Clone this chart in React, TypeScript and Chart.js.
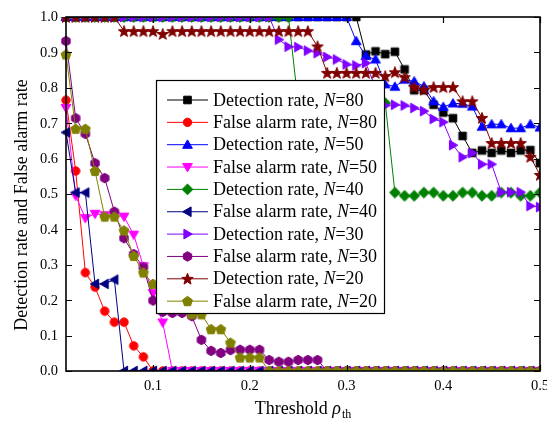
import React, { useEffect, useRef } from 'react';
import { Chart, registerables } from 'chart.js';

Chart.register(...registerables);

// ---- Data ----
const thresholds = [
  0.01, 0.02, 0.03, 0.04, 0.05, 0.06, 0.07, 0.08, 0.09, 0.10,
  0.11, 0.12, 0.13, 0.14, 0.15, 0.16, 0.17, 0.18, 0.19, 0.20,
  0.21, 0.22, 0.23, 0.24, 0.25, 0.26, 0.27, 0.28, 0.29, 0.30,
  0.31, 0.32, 0.33, 0.34, 0.35, 0.36, 0.37, 0.38, 0.39, 0.40,
  0.41, 0.42, 0.43, 0.44, 0.45, 0.46, 0.47, 0.48, 0.49, 0.50,
];

const detectionN80 = [
  1, 1, 1, 1, 1, 1, 1, 1, 1, 1,
  1, 1, 1, 1, 1, 1, 1, 1, 1, 1,
  1, 1, 1, 1, 1, 1, 1, 1, 1, 1,
  1, 0.894, 0.903, 0.895, 0.902, 0.852, 0.793, 0.793, 0.752, 0.730,
  0.714, 0.664, 0.616, 0.623, 0.616, 0.623, 0.616, 0.623, 0.624, 0.587,
];
const falseAlarmN80 = [
  0.765, 0.565, 0.278, 0.237, 0.169, 0.138, 0.138, 0.071, 0.040, 0,
  0, 0, 0, 0, 0, 0, 0, 0, 0, 0,
  0, 0, 0, 0, 0, 0, 0, 0, 0, 0,
  0, 0, 0, 0, 0, 0, 0, 0, 0, 0,
  0, 0, 0, 0, 0, 0, 0, 0, 0, 0,
];
const detectionN50 = [
  1, 1, 1, 1, 1, 1, 1, 1, 1, 1,
  1, 1, 1, 1, 1, 1, 1, 1, 1, 1,
  1, 1, 1, 1, 1, 1, 1, 1, 1, 1,
  0.932, 0.89, 0.88, 0.81, 0.803, 0.823, 0.818, 0.804, 0.762, 0.746,
  0.756, 0.755, 0.747, 0.69, 0.697, 0.697, 0.686, 0.686, 0.697, 0.688,
];
const falseAlarmN50 = [
  0.743, 0.495, 0.432, 0.444, 0.44, 0.44, 0.436, 0.385, 0.296, 0.22,
  0.137, 0, 0, 0, 0, 0, 0, 0, 0, 0,
  0, 0, 0, 0, 0, 0, 0, 0, 0, 0,
  0, 0, 0, 0, 0, 0, 0, 0, 0, 0,
  0, 0, 0, 0, 0, 0, 0, 0, 0, 0,
];
const detectionN40 = [
  1, 1, 1, 1, 1, 1, 1, 1, 1, 1,
  1, 1, 1, 1, 1, 1, 1, 1, 1, 1,
  1, 1, 1, 1, 0.757, 0.757, 0.757, 0.757, 0.757, 0.757,
  0.757, 0.757, 0.757, 0.757, 0.504, 0.495, 0.495, 0.504, 0.504, 0.495,
  0.495, 0.504, 0.504, 0.495, 0.495, 0.504, 0.504, 0.495, 0.495, 0.504,
];
const falseAlarmN40 = [
  0.674, 0.504, 0.504, 0.246, 0.246, 0.258, 0, 0, 0, 0,
  0, 0, 0, 0, 0, 0, 0, 0, 0, 0,
  0, 0, 0, 0, 0, 0, 0, 0, 0, 0,
  0, 0, 0, 0, 0, 0, 0, 0, 0, 0,
  0, 0, 0, 0, 0, 0, 0, 0, 0, 0,
];
const detectionN30 = [
  1, 1, 1, 1, 1, 1, 1, 1, 1, 1,
  1, 1, 1, 1, 1, 1, 1, 1, 1, 1,
  1, 1, 0.936, 0.916, 0.915, 0.905, 0.898, 0.887, 0.88, 0.866,
  0.863, 0.87, 0.80, 0.75, 0.752, 0.75, 0.743, 0.734, 0.712, 0.703,
  0.638, 0.604, 0.616, 0.584, 0.584, 0.505, 0.505, 0.505, 0.466, 0.463,
];
const falseAlarmN30 = [
  0.932, 0.714, 0.67, 0.587, 0.545, 0.45, 0.375, 0.33, 0.293, 0.199,
  0.167, 0.164, 0.164, 0.155, 0.088, 0.057, 0.051, 0.059, 0.06, 0.06,
  0.06, 0.031, 0.026, 0.026, 0.031, 0.031, 0.031, 0, 0, 0,
  0, 0, 0, 0, 0, 0, 0, 0, 0, 0,
  0, 0, 0, 0, 0, 0, 0, 0, 0, 0,
];
const detectionN20 = [
  1, 1, 1, 1, 1, 1, 0.96, 0.96, 0.96, 0.96,
  0.952, 0.96, 0.96, 0.96, 0.96, 0.96, 0.96, 0.96, 0.96, 0.96,
  0.96, 0.96, 0.96, 0.96, 0.96, 0.96, 0.917, 0.842, 0.842, 0.842,
  0.842, 0.842, 0.842, 0.833, 0.844, 0.83, 0.802, 0.795, 0.802, 0.802,
  0.802, 0.762, 0.762, 0.715, 0.644, 0.644, 0.644, 0.644, 0.605, 0.554,
];
const falseAlarmN20 = [
  0.894, 0.684, 0.684, 0.565, 0.436, 0.436, 0.397, 0.325, 0.278, 0.246,
  0.21, 0.19, 0.175, 0.16, 0.16, 0.118, 0.118, 0.08, 0.038, 0.038,
  0.038, 0, 0, 0, 0, 0, 0, 0, 0, 0,
  0, 0, 0, 0, 0, 0, 0, 0, 0, 0,
  0, 0, 0, 0, 0, 0, 0, 0, 0, 0,
];

const seriesNames = ['Detection rate, ', 'False alarm rate, '];
const nValues = ['80', '80', '50', '50', '40', '40', '30', '30', '20', '20'];
const seriesValues = [
  detectionN80, falseAlarmN80, detectionN50, falseAlarmN50, detectionN40,
  falseAlarmN40, detectionN30, falseAlarmN30, detectionN20, falseAlarmN20,
];
const seriesColors = [
  '#000000', '#ff0000', '#0000ff', '#ff00ff', '#008000',
  '#000080', '#8000ff', '#800080', '#800000', '#808000',
];
const seriesMarkers = [
  'square', 'circle', 'triUp', 'triDown', 'diamond',
  'triLeft', 'triRight', 'hexagon', 'star', 'pentagon',
];

const xTickValues = [0.1, 0.2, 0.3, 0.4, 0.5];
const xTickLabels = ['0.1', '0.2', '0.3', '0.4', '0.5'];
const yTickValues = [0, 0.1, 0.2, 0.3, 0.4, 0.5, 0.6, 0.7, 0.8, 0.9, 1.0];
const yTickLabels = ['0.0', '0.1', '0.2', '0.3', '0.4', '0.5', '0.6', '0.7', '0.8', '0.9', '1.0'];

const FONT = '"Liberation Serif", "Times New Roman", serif';

function polygon(ctx: CanvasRenderingContext2D, cx: number, cy: number, n: number, r: number, start: number, inner?: number) {
  ctx.beginPath();
  const count = inner ? n * 2 : n;
  for (let i = 0; i < count; i++) {
    const a = start + (i * 2 * Math.PI) / count;
    const rr = inner && i % 2 === 1 ? inner : r;
    const x = cx + rr * Math.cos(a);
    const y = cy + rr * Math.sin(a);
    if (i === 0) ctx.moveTo(x, y);
    else ctx.lineTo(x, y);
  }
  ctx.closePath();
}

function drawMarker(ctx: CanvasRenderingContext2D, shape: string, cx: number, cy: number, color: string) {
  ctx.save();
  ctx.fillStyle = color;
  ctx.strokeStyle = color;
  ctx.lineWidth = 1;
  const up = -Math.PI / 2;
  switch (shape) {
    case 'square':
      ctx.beginPath();
      ctx.rect(cx - 3.8, cy - 3.8, 7.6, 7.6);
      break;
    case 'circle':
      ctx.beginPath();
      ctx.arc(cx, cy, 4.2, 0, Math.PI * 2);
      break;
    case 'triUp':
      polygon(ctx, cx, cy + 0.8, 3, 5.6, up);
      break;
    case 'triDown':
      polygon(ctx, cx, cy - 0.8, 3, 5.6, Math.PI / 2);
      break;
    case 'triLeft':
      polygon(ctx, cx + 0.8, cy, 3, 5.6, Math.PI);
      break;
    case 'triRight':
      polygon(ctx, cx - 0.8, cy, 3, 5.6, 0);
      break;
    case 'diamond':
      polygon(ctx, cx, cy, 4, 5.4, up);
      break;
    case 'hexagon':
      polygon(ctx, cx, cy, 6, 4.8, up);
      break;
    case 'pentagon':
      polygon(ctx, cx, cy + 0.4, 5, 5.2, up);
      break;
    case 'star':
      polygon(ctx, cx, cy + 0.5, 5, 6.0, up, 2.5);
      break;
  }
  ctx.fill();
  ctx.stroke();
  ctx.restore();
}

function makeMarkerCanvas(shape: string, color: string): HTMLCanvasElement {
  const c = document.createElement('canvas');
  c.width = 16;
  c.height = 16;
  const ctx = c.getContext('2d')!;
  drawMarker(ctx, shape, 8, 8, color);
  return c;
}

const decorPlugin = {
  id: 'originDecor',
  afterDatasetsDraw(chart: any) {
    const { ctx, chartArea: a, scales } = chart;
    const xs = scales.x;
    const ys = scales.y;
    ctx.save();

    // frame
    ctx.strokeStyle = '#000';
    ctx.lineWidth = 1.6;
    ctx.strokeRect(a.left, a.top, a.right - a.left, a.bottom - a.top);

    // inward ticks
    ctx.lineWidth = 1.2;
    ctx.beginPath();
    yTickValues.forEach((v) => {
      const y = Math.round(ys.getPixelForValue(v)) + 0.5;
      ctx.moveTo(a.left, y);
      ctx.lineTo(a.left + 6, y);
      ctx.moveTo(a.right, y);
      ctx.lineTo(a.right - 6, y);
    });
    xTickValues.forEach((v) => {
      const x = Math.round(xs.getPixelForValue(v)) + 0.5;
      ctx.moveTo(x, a.bottom);
      ctx.lineTo(x, a.bottom - 6);
      ctx.moveTo(x, a.top);
      ctx.lineTo(x, a.top + 6);
    });
    ctx.stroke();

    // tick labels
    ctx.fillStyle = '#000';
    ctx.font = '14.5px ' + FONT;
    ctx.textBaseline = 'middle';
    ctx.textAlign = 'right';
    yTickValues.forEach((v, i) => {
      ctx.fillText(yTickLabels[i], a.left - 8, ys.getPixelForValue(v) + 0.5);
    });
    ctx.textAlign = 'center';
    xTickValues.forEach((v, i) => {
      ctx.fillText(xTickLabels[i], xs.getPixelForValue(v), a.bottom + 15);
    });

    // y title
    ctx.save();
    ctx.font = '18px ' + FONT;
    ctx.textAlign = 'center';
    ctx.textBaseline = 'alphabetic';
    ctx.translate(27, 205);
    ctx.rotate(-Math.PI / 2);
    ctx.fillText('Detection rate and False alarm rate', 0, 0);
    ctx.restore();

    // x title: Threshold ρ_th
    ctx.textBaseline = 'alphabetic';
    ctx.textAlign = 'left';
    const t1 = 'Threshold ';
    ctx.font = '18px ' + FONT;
    const w1 = ctx.measureText(t1).width;
    ctx.font = 'italic 18px ' + FONT;
    const w2 = ctx.measureText('\u03c1').width;
    ctx.font = '12px ' + FONT;
    const w3 = ctx.measureText('th').width;
    const total = w1 + w2 + w3 + 1;
    const cx = (a.left + a.right) / 2;
    let x = cx - total / 2;
    const by = 414;
    ctx.font = '18px ' + FONT;
    ctx.fillText(t1, x, by);
    x += w1;
    ctx.font = 'italic 18px ' + FONT;
    ctx.fillText('\u03c1', x, by);
    x += w2 + 1;
    ctx.font = '12px ' + FONT;
    ctx.fillText('th', x, by + 4);

    // legend
    const lx = 156, ly = 80, lw = 228, lh = 233;
    ctx.fillStyle = '#fff';
    ctx.fillRect(lx, ly, lw, lh);
    ctx.strokeStyle = '#000';
    ctx.lineWidth = 1.2;
    ctx.strokeRect(lx + 0.5, ly + 0.5, lw, lh);
    for (let i = 0; i < seriesValues.length; i++) {
      const ry = 99.5 + i * 22.35;
      const color = seriesColors[i];
      ctx.strokeStyle = color;
      ctx.lineWidth = 1;
      ctx.beginPath();
      ctx.moveTo(167, ry + 0.5);
      ctx.lineTo(208, ry + 0.5);
      ctx.stroke();
      drawMarker(ctx, seriesMarkers[i], 187.5, ry + 0.5, color);
      ctx.fillStyle = '#000';
      let tx = 213;
      const base = ry + 6;
      const name = seriesNames[i % 2];
      ctx.font = '18px ' + FONT;
      ctx.fillText(name, tx, base);
      tx += ctx.measureText(name).width;
      ctx.font = 'italic 18px ' + FONT;
      ctx.fillText('N', tx, base);
      tx += ctx.measureText('N').width;
      ctx.font = '18px ' + FONT;
      ctx.fillText('=' + nValues[i], tx, base);
    }

    ctx.restore();
  },
};

export default function App() {
  const canvasRef = useRef<HTMLCanvasElement | null>(null);

  useEffect(() => {
    const canvas = canvasRef.current;
    if (!canvas) return;
    const datasets = seriesValues.map((vals, i) => ({
      label: seriesNames[i % 2] + 'N=' + nValues[i],
      data: thresholds.map((t, j) => ({ x: t, y: vals[j] })),
      borderColor: seriesColors[i],
      backgroundColor: seriesColors[i],
      borderWidth: 1,
      pointStyle: makeMarkerCanvas(seriesMarkers[i], seriesColors[i]),
      pointRadius: 5,
      tension: 0,
      order: seriesValues.length - i,
      clip: { left: false, top: 0, right: 0, bottom: 0 },
    }));
    const chart = new Chart(canvas, {
      type: 'line',
      data: { datasets },
      options: {
        responsive: false,
        animation: false,
        events: [],
        layout: { padding: { left: 66, top: 17, right: 7, bottom: 52 } },
        scales: {
          x: { type: 'linear', display: false, min: 0.01, max: 0.5 },
          y: { type: 'linear', display: false, min: 0, max: 1 },
        },
        plugins: {
          legend: { display: false },
          tooltip: { enabled: false },
        },
      },
      plugins: [decorPlugin],
    } as any);
    return () => chart.destroy();
  }, []);

  return (
    <div style={{ position: 'fixed', left: 0, top: 0, width: 547, height: 423, background: '#fff' }}>
      <canvas ref={canvasRef} width={547} height={423} style={{ display: 'block' }} />
    </div>
  );
}
